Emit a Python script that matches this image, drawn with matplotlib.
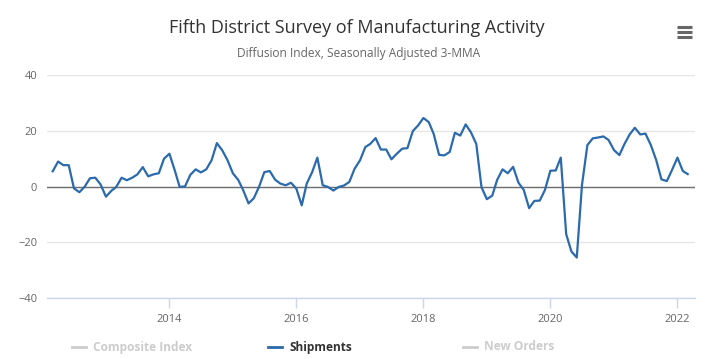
import matplotlib
matplotlib.use("Agg")
import matplotlib.pyplot as plt
import matplotlib.dates as mdates
from matplotlib.lines import Line2D
import numpy as np
import pandas as pd

plt.rcParams['font.family'] = ['Open Sans', 'DejaVu Sans']

# Shipments, diffusion index (3-MMA), monthly from Mar 2012 to Mar 2022
shipments = [
    5.5, 9.0, 7.7, 7.7, -0.6, -2.0, 0.0, 3.0, 3.2, 0.8,                       # 2012 (Mar-Dec)
    -3.6, -1.5, -0.1, 3.2, 2.3, 3.2, 4.4, 7.0, 3.7, 4.4, 4.8, 10.0,          # 2013
    11.8, 5.8, -0.1, 0.1, 4.2, 6.2, 5.1, 6.2, 9.5, 15.6, 13.0, 9.5,          # 2014
    4.8, 2.4, -1.2, -6.0, -4.2, 0.0, 5.2, 5.6, 2.5, 1.1, 0.5, 1.4,           # 2015
    -0.7, -6.7, 1.1, 5.2, 10.4, 0.5, -0.1, -1.4, -0.1, 0.4, 1.7, 6.4,        # 2016
    9.4, 14.2, 15.3, 17.4, 13.3, 13.3, 9.8, 11.8, 13.6, 13.8, 19.9, 21.9,    # 2017
    24.6, 23.1, 18.9, 11.4, 11.2, 12.4, 19.3, 18.3, 22.3, 19.5, 15.3, -0.2,  # 2018
    -4.5, -3.2, 2.4, 6.2, 4.8, 7.1, 1.5, -1.2, -7.7, -5.1, -5.0, -1.2,       # 2019
    5.7, 5.8, 10.4, -17.0, -23.2, -25.4, 0.6, 14.9, 17.3, 17.6, 18.0, 16.7,  # 2020
    13.1, 11.3, 15.1, 18.7, 21.1, 18.7, 19.0, 14.9, 9.5, 2.6, 2.0, 6.0,      # 2021
    10.4, 5.6, 4.5,                                                           # 2022 (Jan-Mar)
]
dates = pd.date_range('2012-03-01', periods=len(shipments), freq='MS')

legend_names = ['Composite Index', 'Shipments', 'New Orders']
legend_colors = ['#cccccc', '#2a6aad', '#cccccc']
legend_text_colors = ['#cccccc', '#333333', '#cccccc']

year_ticks = [2014, 2016, 2018, 2020, 2022]
y_ticks = [-40, -20, 0, 20, 40]

fig = plt.figure(figsize=(7.23, 3.59), dpi=100)
ax = fig.add_axes([47 / 723, 1 - 298.3 / 359, 648 / 723, 223.3 / 359])

ax.plot(dates, shipments, color='#2a6aad', lw=1.6, solid_joinstyle='round', zorder=3)

ax.set_ylim(-40, 40)
ax.set_yticks(y_ticks)
ax.yaxis.grid(True, color='#e6e6e6', lw=1)
ax.axhline(0, color='#707070', lw=1, zorder=2)
ax.set_xlim(pd.Timestamp('2012-01-28'), pd.Timestamp('2022-04-12'))
ax.set_xticks([pd.Timestamp(f'{y}-01-01') for y in year_ticks])
ax.xaxis.set_major_formatter(mdates.DateFormatter('%Y'))

for s in ['top', 'right', 'left']:
    ax.spines[s].set_visible(False)
ax.spines['bottom'].set_color('#ccd6eb')
ax.spines['bottom'].set_linewidth(1)
ax.tick_params(axis='x', colors='#ccd6eb', length=7, width=1, pad=4,
               labelcolor='#666666', labelsize=8)
ax.tick_params(axis='y', length=0, pad=7, labelcolor='#666666', labelsize=8)
ax.set_axisbelow(True)

fig.text(0.494, 1 - 28 / 359, 'Fifth District Survey of Manufacturing Activity',
         ha='center', va='center', fontsize=13, color='#333333')
fig.text(0.496, 1 - 53 / 359, 'Diffusion Index, Seasonally Adjusted 3-MMA',
         ha='center', va='center', fontsize=8.6, color='#666666')

# menu icon
for yy in [27, 32, 37]:
    fig.add_artist(Line2D([677 / 723, 692 / 723], [1 - yy / 359] * 2,
                          color='#666666', lw=2.2, solid_capstyle='butt'))

# legend
item_x = [72, 268, 463]
for x0, name, c, tc in zip(item_x, legend_names, legend_colors, legend_text_colors):
    fig.add_artist(Line2D([x0 / 723, (x0 + 14) / 723], [1 - 347 / 359] * 2,
                          color=c, lw=2))
    fig.text((x0 + 21) / 723, 1 - 347 / 359, name, ha='left', va='center',
             fontsize=8.6, fontweight='bold', color=tc)

fig.savefig('out.png', dpi=100)
